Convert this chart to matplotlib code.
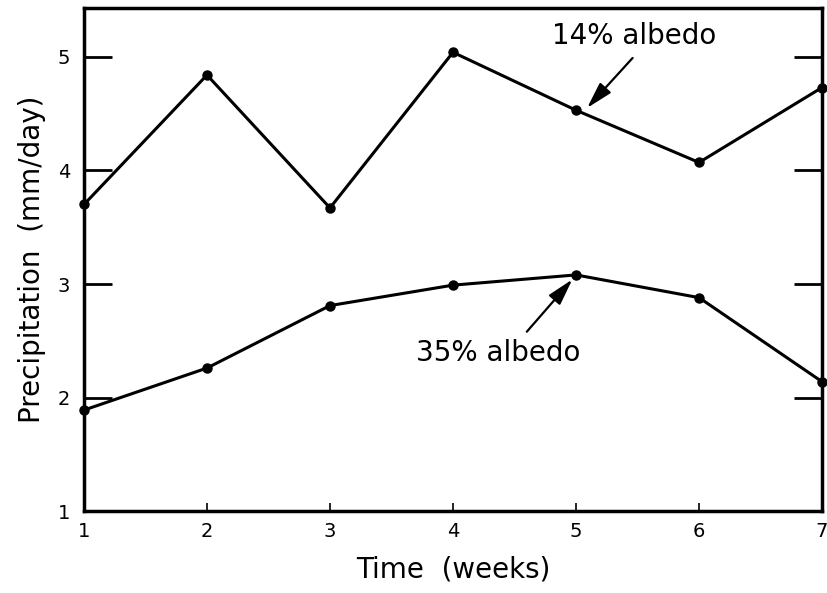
import matplotlib
matplotlib.use('Agg')
import matplotlib.pyplot as plt

# weeks and precipitation (mm/day)
weeks = [1, 2, 3, 4, 5, 6, 7]
albedo14 = [3.70, 4.84, 3.67, 5.04, 4.53, 4.07, 4.73]
albedo35 = [1.89, 2.26, 2.81, 2.99, 3.08, 2.88, 2.14]

plt.rcParams.update({'font.family': 'DejaVu Sans', 'font.size': 13})

fig = plt.figure(figsize=(8.28, 5.93), dpi=100)
ax = fig.add_axes([0.1014, 0.138, 0.8914, 0.8485])

ax.plot(weeks, albedo14, color='black', lw=2.2, marker='o', ms=6.5, clip_on=False)
ax.plot(weeks, albedo35, color='black', lw=2.2, marker='o', ms=6.5, clip_on=False)

ax.set_xlim(1, 7)
ax.set_ylim(1, 5.43)
ax.set_xticks(weeks)
ax.set_yticks([1, 2, 3, 4, 5])
ax.tick_params(axis='y', direction='in', length=20, width=2, right=True, labelsize=14, pad=10)
ax.tick_params(axis='x', direction='in', length=6, width=1.2, labelsize=14, pad=8)
for s in ax.spines.values():
    s.set_linewidth(2.5)

ax.set_xlabel('Time  (weeks)', fontsize=20, labelpad=10)
ax.set_ylabel('Precipitation  (mm/day)', fontsize=20, labelpad=8)

# labels and their pointer arrows
ax.text(5.47, 5.18, '14% albedo', fontsize=20, ha='center', va='center')
ax.annotate('', xy=(5.09, 4.55), xytext=(5.46, 4.99),
            arrowprops=dict(arrowstyle='-|>,head_length=0.9,head_width=0.25',
                            color='black', lw=1.6, mutation_scale=18,
                            shrinkA=0, shrinkB=0))
ax.text(4.37, 2.39, '35% albedo', fontsize=20, ha='center', va='center')
ax.annotate('', xy=(4.97, 3.04), xytext=(4.60, 2.58),
            arrowprops=dict(arrowstyle='-|>,head_length=0.9,head_width=0.25',
                            color='black', lw=1.6, mutation_scale=18,
                            shrinkA=0, shrinkB=0))

fig.savefig('out.png', dpi=100)
